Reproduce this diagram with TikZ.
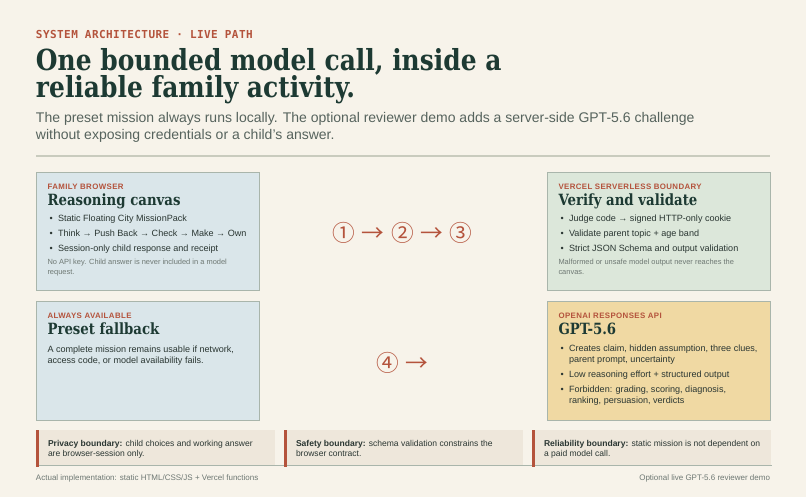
\documentclass[tikz,border=0pt]{standalone}
\usepackage{fontspec}
\setmainfont{Liberation Sans}
\newfontfamily\serifhd{DejaVu Serif}[FakeStretch=0.86]
\newfontfamily\monoeye{DejaVu Sans Mono}[LetterSpace=4]
\newfontfamily\sanslab{Liberation Sans}[LetterSpace=5]
\newfontfamily\symfont{Noto Sans CJK SC}
\definecolor{paper}{HTML}{F7F3EA}
\definecolor{ink}{HTML}{1D3A33}
\definecolor{body}{HTML}{2A3632}
\definecolor{rust}{HTML}{B4533C}
\definecolor{slate}{HTML}{56635D}
\definecolor{mute}{HTML}{6E7873}
\definecolor{sky}{HTML}{DAE6EA}
\definecolor{sage}{HTML}{DCE7DA}
\definecolor{wheat}{HTML}{F0D9A3}
\definecolor{edge}{HTML}{A9B5AB}
\definecolor{band}{HTML}{EEE7DB}
\definecolor{hair}{HTML}{C9CBBE}

\begin{document}
\begin{tikzpicture}[x=0.75pt,y=-0.75pt]
    \tikzstyle{tx}=[inner sep=0,outer sep=0,anchor=base west]
    \tikzstyle{eye}=[tx,rust,font=\monoeye\bfseries\fontsize{8.25}{10}\selectfont]
    \tikzstyle{ttl}=[tx,ink,font=\serifhd\bfseries\fontsize{21.75}{26}\selectfont]
    \tikzstyle{sub}=[tx,slate,font=\fontsize{10.5}{12}\selectfont]
    \tikzstyle{bx}=[draw=edge,line width=1.1pt,anchor=north west,minimum width=167.25pt,inner sep=0]
    \tikzstyle{lab}=[tx,rust,font=\sanslab\bfseries\fontsize{5.9}{7}\selectfont]
    \tikzstyle{hd}=[tx,ink,font=\serifhd\bfseries\fontsize{11.6}{14}\selectfont]
    \tikzstyle{bd}=[tx,body,font=\fontsize{6.8}{8}\selectfont]
    \tikzstyle{nt}=[tx,mute,font=\fontsize{5.6}{7}\selectfont]
    \tikzstyle{bb}=[fill=band,anchor=north west,minimum width=179.25pt,minimum height=26.25pt,inner sep=0]
    \tikzstyle{bar}=[rust,line width=2.25pt]
    \tikzstyle{bt}=[tx,body,font=\fontsize{6.4}{8}\selectfont]
    \tikzstyle{ft}=[tx,mute,font=\fontsize{6}{7}\selectfont]
    \tikzstyle{flow}=[inner sep=0,rust,font=\symfont\fontsize{17}{20}\selectfont]
    \newcommand{\panel}[6]{
        \path (#2,#3) node[bx,#4] (#1) {};
        \path (#1.north west) ++(11.5,17.5) node[lab] (#1-lab) {#5};
        \path (#1.north west) ++(11.5,33) node[hd] (#1-hd) {#6};
    }
    \newcommand{\bul}[3]{
        \path (#1.north west) ++(13.5,#2) node[bd] (#1-d#2) {\textbullet};
        \path (#1.north west) ++(22,#2) node[bd] (#1-b#2) {#3};
    }
    \newcommand{\more}[3]{
        \path (#1.north west) ++(22,#2) node[bd] (#1-b#2) {#3};
    }
    \useasboundingbox[fill=paper] (0,0) rectangle (806,497);

    % header
    \path (36,38) node[eye] (eyebrow) {SYSTEM ARCHITECTURE · LIVE PATH};
    \path (36,70) node[ttl] (title1) {One bounded model call, inside a};
    \path (36,97) node[ttl] (title2) {reliable family activity.};
    \path (36,122) node[sub] (sub1) {The preset mission always runs locally. The optional reviewer demo adds a server-side GPT-5.6 challenge};
    \path (36,139) node[sub] (sub2) {without exposing credentials or a child’s answer.};
    \draw[hair,line width=0.9pt] (36,156) -- (770,156);

    % browser side
    \panel{fb}{36}{172}{fill=sky,minimum height=88.5pt}{FAMILY BROWSER}{Reasoning canvas}
    \bul{fb}{49}{Static Floating City MissionPack}
    \bul{fb}{64}{Think → Push Back → Check → Make → Own}
    \bul{fb}{79}{Session-only child response and receipt}
    \path (fb.north west) ++(11.5,92.5) node[nt] (fb-n1) {No API key. Child answer is never included in a model};
    \path (fb.north west) ++(11.5,102) node[nt] (fb-n2) {request.};

    \panel{pf}{36}{301}{fill=sky,minimum height=89.25pt}{ALWAYS AVAILABLE}{Preset fallback}
    \path (pf.north west) ++(11.5,51) node[bd] (pf-t1) {A complete mission remains usable if network,};
    \path (pf.north west) ++(11.5,62) node[bd] (pf-t2) {access code, or model availability fails.};

    % server side
    \panel{vv}{547}{172}{fill=sage,minimum height=88.5pt}{VERCEL SERVERLESS BOUNDARY}{Verify and validate}
    \bul{vv}{49}{Judge code → signed HTTP-only cookie}
    \bul{vv}{64}{Validate parent topic + age band}
    \bul{vv}{79}{Strict JSON Schema and output validation}
    \path (vv.north west) ++(11.5,92.5) node[nt] (vv-n1) {Malformed or unsafe model output never reaches the};
    \path (vv.north west) ++(11.5,102) node[nt] (vv-n2) {canvas.};

    \panel{gp}{547}{301}{fill=wheat,minimum height=89.25pt}{OPENAI RESPONSES API}{GPT-5.6}
    \bul{gp}{50}{Creates claim, hidden assumption, three clues,}
    \more{gp}{61}{parent prompt, uncertainty}
    \bul{gp}{76}{Low reasoning effort + structured output}
    \bul{gp}{91}{Forbidden: grading, scoring, diagnosis,}
    \more{gp}{102}{ranking, persuasion, verdicts}

    % steps
    \path (402.5,233) node[flow] (steps) {①\hspace{5pt}→\hspace{5pt}②\hspace{5pt}→\hspace{5pt}③};
    \path (402.5,363) node[flow] (step4) {④\hspace{5pt}→};

    % boundaries
    \path (36,430) node[bb] (pv) {};
    \path (284,430) node[bb] (sf) {};
    \path (532,430) node[bb] (rl) {};
    \draw[edge,line width=1.1pt] (pv.south west) -- (rl.south east);
    \draw[bar] ([xshift=1.1pt]pv.north west) -- ++(0,37);
    \draw[bar] ([xshift=1.1pt]sf.north west) -- ++(0,37);
    \draw[bar] ([xshift=1.1pt]rl.north west) -- ++(0,37);
    \path (pv.north west) ++(12,16) node[bt] (pv-1) {\textbf{Privacy boundary:} child choices and working answer};
    \path (pv.north west) ++(12,26.7) node[bt] (pv-2) {are browser-session only.};
    \path (sf.north west) ++(12,16) node[bt] (sf-1) {\textbf{Safety boundary:} schema validation constrains the};
    \path (sf.north west) ++(12,26.7) node[bt] (sf-2) {browser contract.};
    \path (rl.north west) ++(12,16) node[bt] (rl-1) {\textbf{Reliability boundary:} static mission is not dependent on};
    \path (rl.north west) ++(12,26.7) node[bt] (rl-2) {a paid model call.};

    % footer
    \path (36,480) node[ft] (ft-l) {Actual implementation: static HTML/CSS/JS + Vercel functions};
    \path (770,480) node[ft,anchor=base east] (ft-r) {Optional live GPT-5.6 reviewer demo};
\end{tikzpicture}
\end{document}
